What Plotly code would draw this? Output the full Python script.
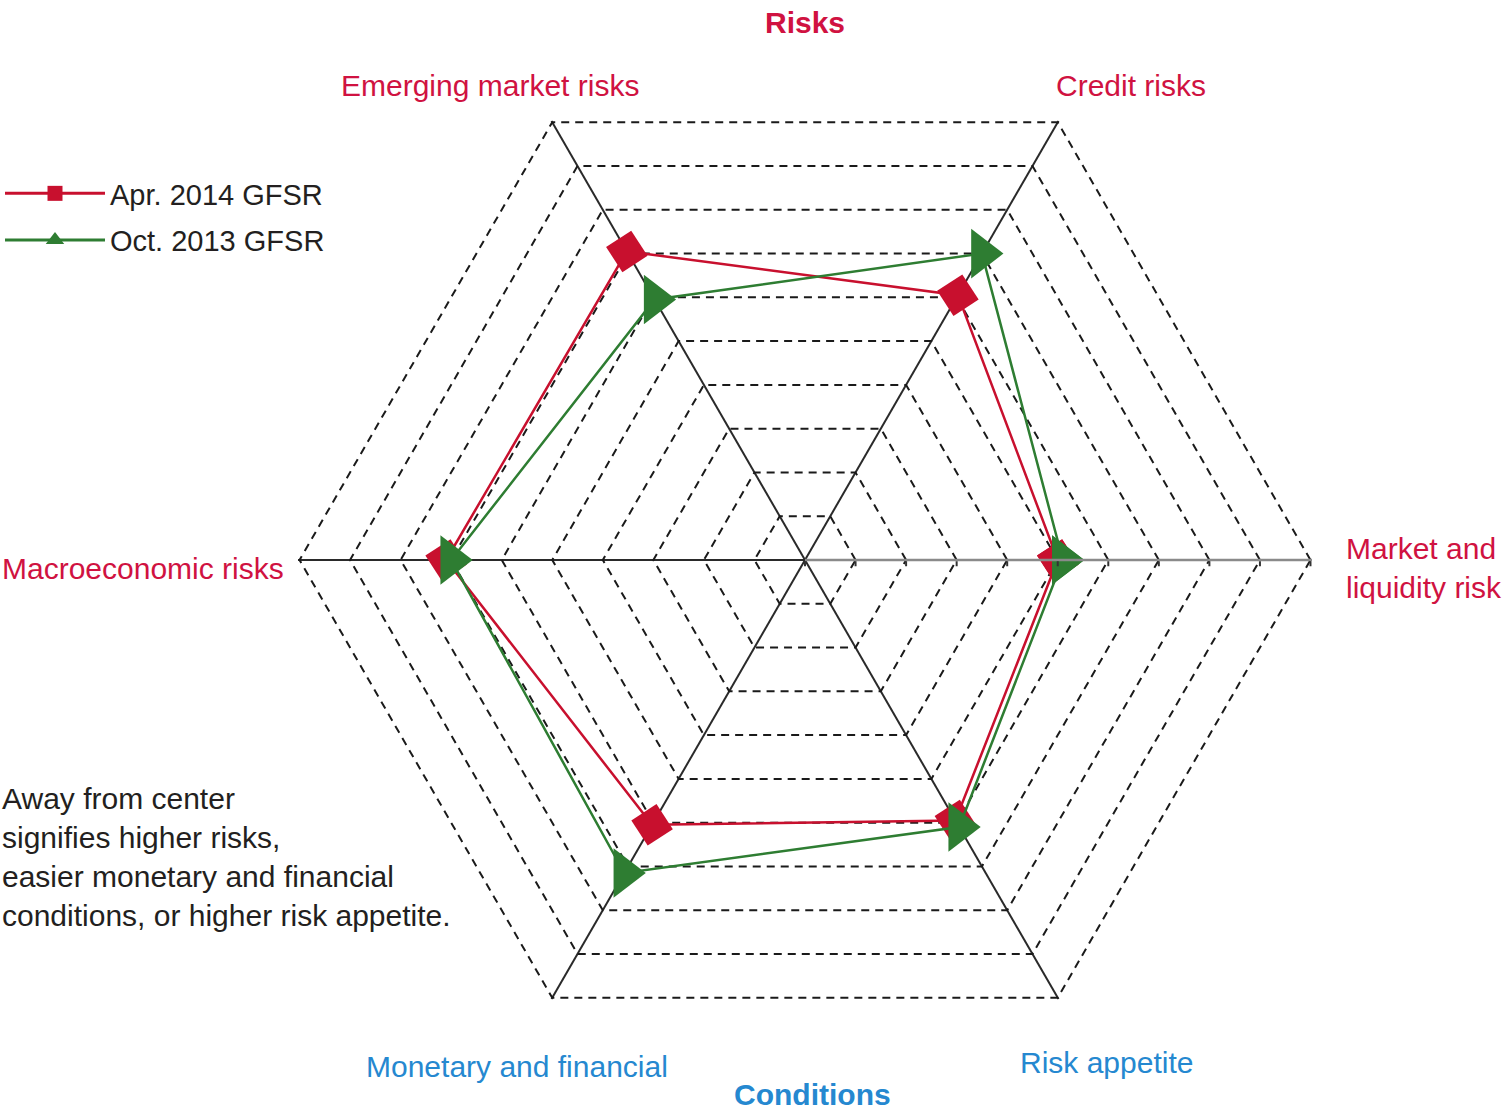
import plotly.graph_objects as go

W, H = 1505, 1110

categories = ["Market and liquidity risk", "Credit risks", "Emerging market risks",
              "Macroeconomic risks", "Monetary and financial", "Risk appetite"]
apr_2014 = [5.0, 6.05, 7.05, 7.1, 6.05, 5.95]
oct_2013 = [5.1, 7.0, 5.95, 7.0, 7.15, 6.1]
series_names = ["Apr. 2014 GFSR", "Oct. 2013 GFSR"]
ring_values = list(range(0, 11))

RED = "#C8102E"
GREEN = "#2E7D32"
LABEL_RED = "#D01241"
LABEL_BLUE = "#2588D0"
FONT = "Liberation Sans, Arial, sans-serif"
FS = 30
LEG_FS = 29


def closed(v):
    return list(v) + [v[0]]


fig = go.Figure()

# legend-only entries (unrotated markers, as in the reference legend)
fig.add_trace(go.Scatterpolar(r=[None], theta=[categories[0]], mode="lines+markers",
                              name=series_names[0], legendgroup="a",
                              line=dict(color=RED, width=3),
                              marker=dict(symbol="square", size=15, color=RED)))
fig.add_trace(go.Scatterpolar(r=[None], theta=[categories[0]], mode="lines+markers",
                              name=series_names[1], legendgroup="b",
                              line=dict(color=GREEN, width=3),
                              marker=dict(symbol="triangle-up", size=17, color=GREEN)))

fig.add_trace(go.Scatterpolar(r=closed(apr_2014), theta=closed(categories), mode="lines+markers",
                              name=series_names[0], legendgroup="a", showlegend=False,
                              line=dict(color=RED, width=2.5),
                              marker=dict(symbol="square", size=30, angle=-33, color=RED)))
fig.add_trace(go.Scatterpolar(r=closed(oct_2013), theta=closed(categories), mode="lines+markers",
                              name=series_names[1], legendgroup="b", showlegend=False,
                              line=dict(color=GREEN, width=2.5),
                              marker=dict(symbol="triangle-up", size=43, angle=90, color=GREEN)))

cx, cy, R = 805, 560, 507
fig.update_layout(
    width=W, height=H,
    margin=dict(l=0, r=0, t=0, b=0),
    paper_bgcolor="white",
    font=dict(family=FONT, size=FS, color="#231F20"),
    polar=dict(
        domain=dict(x=[(cx - R) / W, (cx + R) / W], y=[(H - cy - R) / H, (H - cy + R) / H]),
        bgcolor="white",
        gridshape="linear",
        angularaxis=dict(type="category", categoryarray=categories, direction="counterclockwise",
                         rotation=0, showticklabels=False, ticks="", showline=False,
                         showgrid=True, gridcolor="#2a2a2a", gridwidth=1.5),
        radialaxis=dict(range=[0, 10.03], tickvals=ring_values, showticklabels=False,
                        ticks="outside", ticklen=5, tickcolor="#333333", tickwidth=1.5,
                        showgrid=True, gridcolor="#1a1a1a", gridwidth=1.8, griddash="8px,6px",
                        showline=True, linecolor="#8a8a8a", linewidth=2.5, angle=0),
    ),
    showlegend=True,
    legend=dict(x=0.0, y=1 - 168 / H, xanchor="left", yanchor="top",
                bgcolor="rgba(0,0,0,0)", font=dict(family=FONT, size=LEG_FS, color="#231F20"),
                itemwidth=100, tracegroupgap=6),
)


def px(x, y):
    return x / W, 1 - y / H


labels = [
    ("<b>Risks</b>", 805, 22, "center", LABEL_RED),
    ("Emerging market risks", 490, 85, "center", LABEL_RED),
    ("Credit risks", 1131, 85, "center", LABEL_RED),
    ("Market and<br>liquidity risk", 1344, 568, "left", LABEL_RED),
    ("Macroeconomic risks", 0, 568, "left", LABEL_RED),
    ("Monetary and financial", 517, 1066, "center", LABEL_BLUE),
    ("Risk appetite", 1106, 1062, "center", LABEL_BLUE),
    ("<b>Conditions</b>", 812, 1094, "center", LABEL_BLUE),
]
for text, x, y, anchor, color in labels:
    ax, ay = px(x, y)
    fig.add_annotation(text=text, x=ax, y=ay, xref="paper", yref="paper",
                       xanchor=anchor, yanchor="middle", showarrow=False, align="left",
                       font=dict(family=FONT, size=FS, color=color))

nx, ny = px(0, 857)
fig.add_annotation(text="Away from center<br>signifies higher risks,<br>easier monetary and financial<br>"
                        "conditions, or higher risk appetite.",
                   x=nx, y=ny, xref="paper", yref="paper", xanchor="left", yanchor="middle",
                   showarrow=False, align="left",
                   font=dict(family=FONT, size=FS, color="#231F20"))

fig.write_html("out.html")
